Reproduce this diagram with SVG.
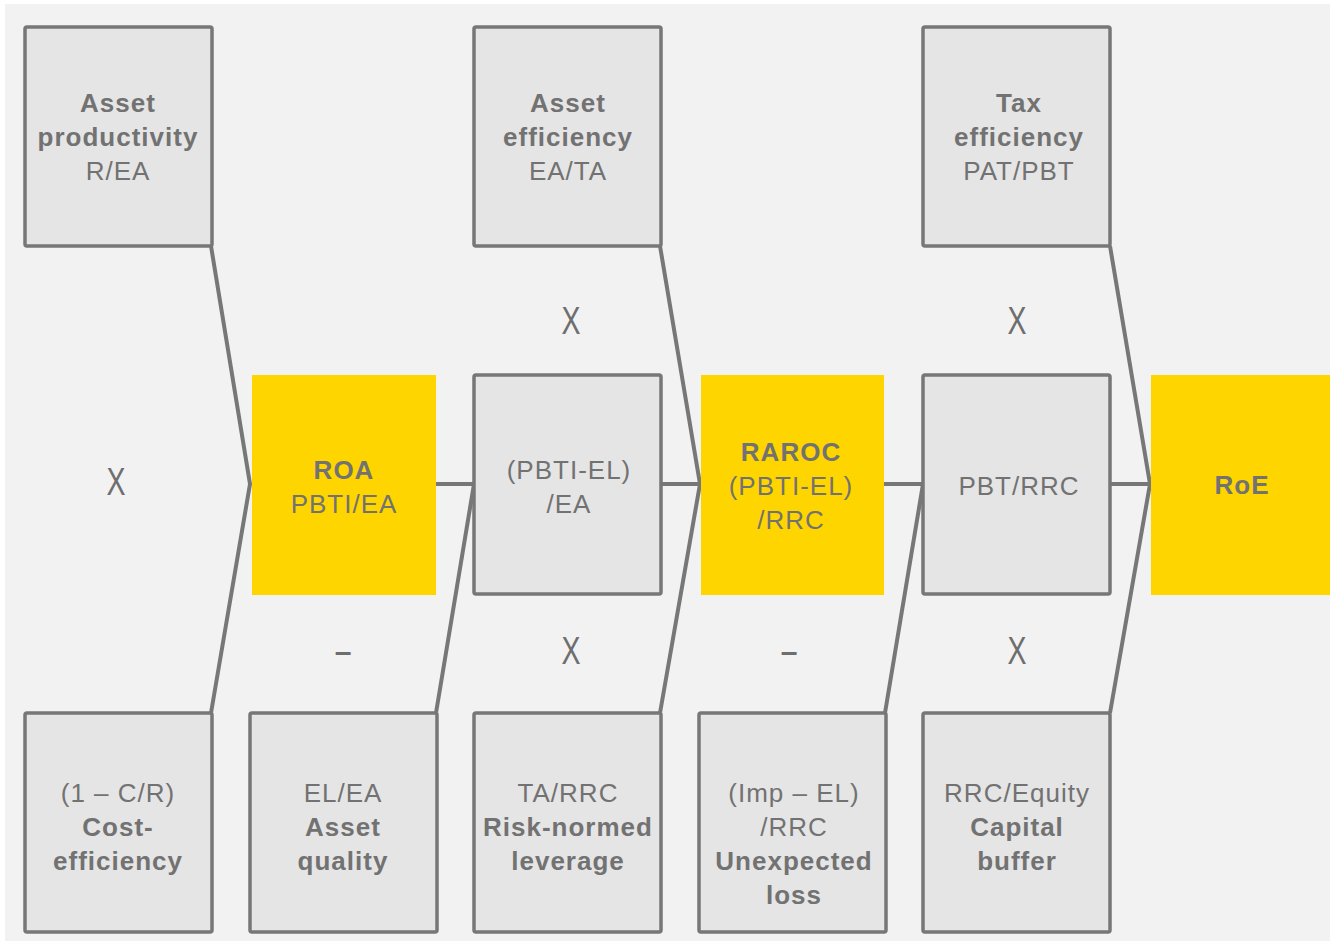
<svg xmlns="http://www.w3.org/2000/svg" width="1330" height="945" viewBox="0 0 1330 945">
<style>
.bg{fill:#f2f2f2}
.box{fill:#e5e5e5;stroke:#777777;stroke-width:3.5}
.hl{fill:#ffd500}
.t{font-family:"Liberation Sans",Arial,sans-serif;font-size:26px;fill:#727272;text-anchor:middle;letter-spacing:1px}
.b{font-weight:bold}
.op{font-family:"Liberation Sans",Arial,sans-serif;font-size:38px;fill:#6e6e6e;text-anchor:middle}
.dash{font-family:"Liberation Sans",Arial,sans-serif;font-size:30px;font-weight:bold;fill:#6e6e6e;text-anchor:middle}
.c{fill:none;stroke:#777777;stroke-width:4;stroke-linejoin:miter}
</style>
<rect class="bg" x="5" y="4" width="1325" height="937"/>
<g id="connectors">
<polyline class="c" points="211,246 250,484 211,713"/>
<line class="c" x1="436" y1="484" x2="474" y2="484"/>
<line class="c" x1="436" y1="713" x2="474" y2="484"/>
<polyline class="c" points="660,246 700,484 660,713"/>
<line class="c" x1="661" y1="484" x2="701" y2="484"/>
<line class="c" x1="884" y1="484" x2="923" y2="484"/>
<line class="c" x1="885" y1="713" x2="923" y2="484"/>
<polyline class="c" points="1110,246 1150,484 1110,713"/>
<line class="c" x1="1110" y1="484" x2="1150" y2="484"/>
</g>
<g id="asset-productivity">
<rect class="box" x="25" y="27" width="187" height="219" rx="2"/>
<text class="t b" x="118" y="112">Asset</text>
<text class="t b" x="118" y="146">productivity</text>
<text class="t" x="118" y="180">R/EA</text>
</g>
<g id="cost-efficiency">
<rect class="box" x="25" y="713" width="187" height="219" rx="2"/>
<text class="t" x="118" y="802">(1 – C/R)</text>
<text class="t b" x="118" y="836">Cost-</text>
<text class="t b" x="118" y="870">efficiency</text>
</g>
<g id="roa">
<rect class="hl" x="252" y="375" width="184" height="220"/>
<text class="t b" x="344" y="479">ROA</text>
<text class="t" x="344" y="513">PBTI/EA</text>
</g>
<g id="asset-quality">
<rect class="box" x="250" y="713" width="187" height="219" rx="2"/>
<text class="t" x="343" y="802">EL/EA</text>
<text class="t b" x="343" y="836">Asset</text>
<text class="t b" x="343" y="870">quality</text>
</g>
<g id="asset-efficiency">
<rect class="box" x="474" y="27" width="187" height="219" rx="2"/>
<text class="t b" x="568" y="112">Asset</text>
<text class="t b" x="568" y="146">efficiency</text>
<text class="t" x="568" y="180">EA/TA</text>
</g>
<g id="pbti-el-ea">
<rect class="box" x="474" y="375" width="187" height="219" rx="2"/>
<text class="t" x="569" y="479">(PBTI-EL)</text>
<text class="t" x="569" y="513">/EA</text>
</g>
<g id="risk-normed-leverage">
<rect class="box" x="474" y="713" width="187" height="219" rx="2"/>
<text class="t" x="568" y="802">TA/RRC</text>
<text class="t b" x="568" y="836">Risk-normed</text>
<text class="t b" x="568" y="870">leverage</text>
</g>
<g id="raroc">
<rect class="hl" x="701" y="375" width="183" height="220"/>
<text class="t b" x="791" y="461">RAROC</text>
<text class="t" x="791" y="495">(PBTI-EL)</text>
<text class="t" x="791" y="529">/RRC</text>
</g>
<g id="unexpected-loss">
<rect class="box" x="699" y="713" width="187" height="219" rx="2"/>
<text class="t" x="794" y="802">(Imp – EL)</text>
<text class="t" x="794" y="836">/RRC</text>
<text class="t b" x="794" y="870">Unexpected</text>
<text class="t b" x="794" y="904">loss</text>
</g>
<g id="tax-efficiency">
<rect class="box" x="923" y="27" width="187" height="219" rx="2"/>
<text class="t b" x="1019" y="112">Tax</text>
<text class="t b" x="1019" y="146">efficiency</text>
<text class="t" x="1019" y="180">PAT/PBT</text>
</g>
<g id="pbt-rrc">
<rect class="box" x="923" y="375" width="187" height="219" rx="2"/>
<text class="t" x="1019" y="495">PBT/RRC</text>
</g>
<g id="capital-buffer">
<rect class="box" x="923" y="713" width="187" height="219" rx="2"/>
<text class="t" x="1017" y="802">RRC/Equity</text>
<text class="t b" x="1017" y="836">Capital</text>
<text class="t b" x="1017" y="870">buffer</text>
</g>
<g id="roe">
<rect class="hl" x="1151" y="375" width="179" height="220"/>
<text class="t b" x="1242" y="494">RoE</text>
</g>
<g id="operators">
<text class="op" x="116" y="495" textLength="19" lengthAdjust="spacingAndGlyphs">X</text>
<text class="dash" x="343" y="662">–</text>
<text class="op" x="571" y="334" textLength="19" lengthAdjust="spacingAndGlyphs">X</text>
<text class="op" x="571" y="664" textLength="19" lengthAdjust="spacingAndGlyphs">X</text>
<text class="dash" x="789" y="662">–</text>
<text class="op" x="1017" y="334" textLength="19" lengthAdjust="spacingAndGlyphs">X</text>
<text class="op" x="1017" y="664" textLength="19" lengthAdjust="spacingAndGlyphs">X</text>
</g>
</svg>
